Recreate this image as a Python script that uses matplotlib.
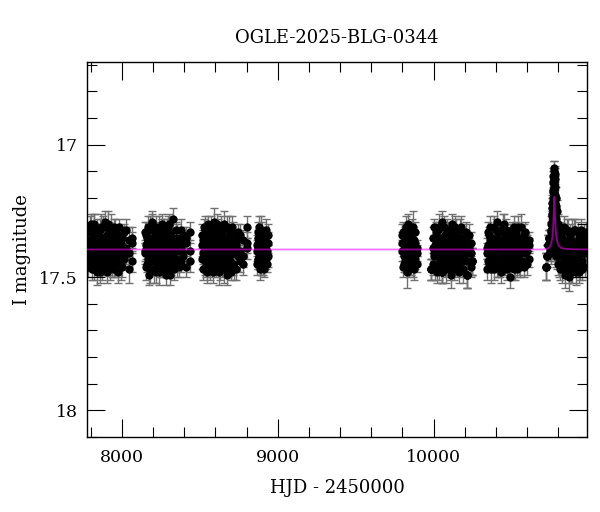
import matplotlib
matplotlib.use('Agg')
import matplotlib.pyplot as plt
from matplotlib.ticker import MultipleLocator

# Each season: epochs, three sets of magnitudes per epoch, error bars

# season 1
t1 = [7785, 7791, 7796, 7802, 7808, 7813, 7819, 7825, 7830, 7836, 7842, 7847, 7853, 7859,
      7864, 7870, 7876, 7881, 7887, 7893, 7898, 7904, 7910, 7915, 7921, 7927, 7932, 7938,
      7944, 7950, 7957, 7965, 7974, 7983, 7993, 8004, 8016, 8030, 8046, 8063]
m1 = [17.37, 17.44, 17.32, 17.41, 17.47, 17.35, 17.40, 17.30, 17.45, 17.38, 17.33, 17.43, 17.36, 17.48,
      17.31, 17.42, 17.36, 17.45, 17.39, 17.29, 17.46, 17.34, 17.42, 17.38, 17.32, 17.47, 17.40, 17.35,
      17.43, 17.31, 17.45, 17.39, 17.34, 17.42, 17.37, 17.46, 17.33, 17.41, 17.36, 17.44]
m1b = [17.46, 17.33, 17.40, 17.30, 17.36, 17.44, 17.31, 17.47, 17.35, 17.42, 17.48, 17.34, 17.45, 17.32,
       17.40, 17.35, 17.47, 17.31, 17.44, 17.41, 17.36, 17.48, 17.30, 17.45, 17.43, 17.34, 17.31, 17.46,
       17.38, 17.47, 17.33, 17.36, 17.48, 17.31, 17.45, 17.39, 17.43, 17.32, 17.47, 17.35]
m1c = [17.39, 17.36, 17.42, 17.38, 17.41, 17.35, 17.43, 17.37, 17.40, 17.34, 17.39, 17.42, 17.36, 17.40,
       17.38, 17.44, 17.35, 17.41, 17.37, 17.43, 17.39, 17.36, 17.42, 17.34, 17.40, 17.37, 17.43, 17.38,
       17.35, 17.41, 17.39, 17.44, 17.36, 17.40, 17.38, 17.35, 17.42, 17.39, 17.41, 17.37]
e1 = [0.04, 0.03, 0.05, 0.04, 0.04, 0.03, 0.05, 0.04, 0.03, 0.04, 0.05, 0.04, 0.03, 0.04,
      0.05, 0.03, 0.04, 0.04, 0.05, 0.04, 0.03, 0.04, 0.05, 0.04, 0.03, 0.04, 0.05, 0.04,
      0.04, 0.03, 0.05, 0.04, 0.04, 0.03, 0.06, 0.04, 0.03, 0.04, 0.05, 0.04]

# season 2
t2 = [8151, 8157, 8163, 8168, 8174, 8180, 8186, 8191, 8197, 8203, 8209, 8214, 8220, 8226,
      8232, 8237, 8243, 8249, 8255, 8260, 8266, 8272, 8278, 8283, 8289, 8295, 8301, 8306,
      8312, 8318, 8324, 8330, 8337, 8345, 8354, 8364, 8377, 8393, 8412, 8437]
m2 = [17.40, 17.34, 17.45, 17.31, 17.38, 17.47, 17.36, 17.42, 17.29, 17.44, 17.39, 17.33, 17.48, 17.37,
      17.41, 17.32, 17.46, 17.35, 17.43, 17.30, 17.40, 17.47, 17.34, 17.38, 17.44, 17.31, 17.42, 17.36,
      17.49, 17.33, 17.45, 17.28, 17.39, 17.43, 17.35, 17.46, 17.32, 17.41, 17.37, 17.44]
m2b = [17.33, 17.46, 17.37, 17.43, 17.49, 17.32, 17.44, 17.30, 17.41, 17.35, 17.47, 17.42, 17.31, 17.45,
       17.34, 17.48, 17.38, 17.44, 17.32, 17.46, 17.36, 17.31, 17.45, 17.49, 17.33, 17.41, 17.47, 17.30,
       17.38, 17.44, 17.36, 17.42, 17.47, 17.32, 17.45, 17.38, 17.44, 17.34, 17.46, 17.33]
m2c = [17.41, 17.38, 17.35, 17.40, 17.43, 17.37, 17.39, 17.36, 17.42, 17.38, 17.35, 17.40, 17.44, 17.37,
       17.39, 17.41, 17.36, 17.40, 17.38, 17.42, 17.35, 17.39, 17.37, 17.41, 17.36, 17.43, 17.38, 17.40,
       17.34, 17.39, 17.41, 17.37, 17.43, 17.38, 17.40, 17.36, 17.39, 17.42, 17.35, 17.40]
e2 = [0.04, 0.05, 0.03, 0.04, 0.04, 0.05, 0.03, 0.04, 0.04, 0.03, 0.05, 0.04, 0.04, 0.03,
      0.04, 0.05, 0.04, 0.03, 0.04, 0.04, 0.05, 0.03, 0.04, 0.04, 0.05, 0.04, 0.03, 0.04,
      0.04, 0.05, 0.03, 0.04, 0.04, 0.03, 0.05, 0.04, 0.04, 0.03, 0.04, 0.04]

# season 3
t3 = [8517, 8523, 8529, 8535, 8541, 8547, 8553, 8558, 8564, 8570, 8576, 8582, 8588, 8593,
      8599, 8605, 8611, 8617, 8623, 8628, 8634, 8640, 8646, 8652, 8658, 8663, 8669, 8675,
      8681, 8687, 8693, 8699, 8706, 8714, 8723, 8733, 8745, 8760, 8778, 8802]
m3 = [17.43, 17.36, 17.40, 17.32, 17.46, 17.38, 17.30, 17.44, 17.35, 17.41, 17.47, 17.33, 17.39, 17.29,
      17.45, 17.37, 17.42, 17.31, 17.48, 17.36, 17.40, 17.34, 17.46, 17.38, 17.30, 17.43, 17.35, 17.49,
      17.39, 17.32, 17.44, 17.37, 17.41, 17.33, 17.46, 17.36, 17.42, 17.34, 17.45, 17.39]
m3b = [17.34, 17.47, 17.31, 17.44, 17.37, 17.48, 17.42, 17.34, 17.46, 17.31, 17.37, 17.45, 17.48, 17.41,
       17.33, 17.46, 17.30, 17.44, 17.35, 17.47, 17.31, 17.45, 17.33, 17.42, 17.47, 17.35, 17.44, 17.31,
       17.46, 17.40, 17.34, 17.48, 17.31, 17.45, 17.38, 17.47, 17.33, 17.44, 17.36, 17.31]
m3c = [17.38, 17.41, 17.37, 17.40, 17.35, 17.42, 17.39, 17.36, 17.40, 17.43, 17.38, 17.36, 17.41, 17.37,
       17.39, 17.42, 17.35, 17.40, 17.38, 17.41, 17.36, 17.39, 17.43, 17.37, 17.40, 17.38, 17.41, 17.35,
       17.39, 17.42, 17.37, 17.40, 17.36, 17.39, 17.41, 17.38, 17.35, 17.40, 17.42, 17.37]
e3 = [0.04, 0.04, 0.03, 0.05, 0.04, 0.04, 0.03, 0.04, 0.05, 0.04, 0.03, 0.04, 0.04, 0.05,
      0.03, 0.04, 0.04, 0.03, 0.05, 0.04, 0.04, 0.03, 0.04, 0.04, 0.05, 0.04, 0.03, 0.04,
      0.04, 0.05, 0.04, 0.03, 0.04, 0.04, 0.05, 0.04, 0.03, 0.04, 0.04, 0.04]

# season 4
t4 = [8866, 8871, 8876, 8881, 8886, 8891, 8896, 8901, 8906, 8911, 8917, 8923, 8930, 8938]
m4 = [17.38, 17.44, 17.33, 17.41, 17.47, 17.36, 17.34, 17.40, 17.45, 17.39, 17.35, 17.43, 17.37, 17.42]
m4b = [17.45, 17.35, 17.43, 17.31, 17.38, 17.46, 17.42, 17.33, 17.36, 17.47, 17.41, 17.32, 17.45, 17.34]
m4c = [17.40, 17.37, 17.39, 17.42, 17.35, 17.40, 17.38, 17.41, 17.36, 17.39, 17.43, 17.38, 17.40, 17.37]
e4 = [0.04, 0.03, 0.04, 0.04, 0.04, 0.03, 0.07, 0.04, 0.04, 0.03, 0.04, 0.04, 0.03, 0.04]

# season 5
t5 = [9799, 9805, 9811, 9817, 9822, 9828, 9834, 9840, 9846, 9852, 9857, 9863, 9869, 9875, 9882, 9891]
m5 = [17.40, 17.33, 17.45, 17.37, 17.42, 17.48, 17.30, 17.35, 17.41, 17.38, 17.44, 17.32, 17.31, 17.36,
      17.43, 17.39]
m5b = [17.34, 17.46, 17.38, 17.44, 17.31, 17.36, 17.42, 17.47, 17.33, 17.45, 17.35, 17.40, 17.44, 17.47,
       17.33, 17.45]
m5c = [17.37, 17.40, 17.42, 17.35, 17.39, 17.41, 17.37, 17.40, 17.43, 17.36, 17.39, 17.42, 17.38, 17.40,
       17.37, 17.41]
e5 = [0.04, 0.04, 0.03, 0.04, 0.04, 0.06, 0.04, 0.03, 0.04, 0.04, 0.03, 0.04, 0.06, 0.04, 0.04, 0.03]

# season 6
t6 = [9985, 9997, 10003, 10010, 10016, 10022, 10029, 10035, 10041, 10052, 10054, 10060, 10067, 10073,
      10079, 10086, 10092, 10098, 10105, 10111, 10117, 10124, 10130, 10136, 10143, 10149, 10155, 10162,
      10168, 10174, 10181, 10188, 10196, 10205, 10217, 10226, 10238, 10245]
m6 = [17.47, 17.35, 17.42, 17.35, 17.33, 17.48, 17.40, 17.31, 17.44, 17.48, 17.29, 17.45, 17.41, 17.34,
      17.47, 17.39, 17.32, 17.43, 17.36, 17.49, 17.30, 17.42, 17.38, 17.45, 17.33, 17.40, 17.46, 17.35,
      17.43, 17.31, 17.39, 17.47, 17.36, 17.44, 17.49, 17.41, 17.37, 17.44]
m6b = [17.47, 17.45, 17.31, 17.47, 17.41, 17.36, 17.32, 17.46, 17.37, 17.48, 17.42, 17.35, 17.31, 17.46,
       17.38, 17.32, 17.45, 17.35, 17.47, 17.40, 17.44, 17.33, 17.47, 17.31, 17.42, 17.46, 17.34, 17.48,
       17.32, 17.44, 17.47, 17.35, 17.42, 17.33, 17.49, 17.34, 17.46, 17.44]
m6c = [17.47, 17.39, 17.41, 17.38, 17.40, 17.42, 17.37, 17.39, 17.35, 17.48, 17.40, 17.38, 17.43, 17.36,
       17.41, 17.39, 17.37, 17.40, 17.42, 17.35, 17.39, 17.41, 17.37, 17.40, 17.38, 17.43, 17.36, 17.40,
       17.39, 17.37, 17.41, 17.38, 17.40, 17.36, 17.49, 17.39, 17.41, 17.44]
e6 = [0.04, 0.04, 0.03, 0.04, 0.04, 0.04, 0.03, 0.05, 0.04, 0.04, 0.04, 0.03, 0.04, 0.04,
      0.05, 0.04, 0.03, 0.04, 0.04, 0.05, 0.04, 0.03, 0.04, 0.04, 0.05, 0.04, 0.03, 0.04,
      0.04, 0.04, 0.03, 0.05, 0.04, 0.04, 0.05, 0.04, 0.04, 0.05]

# season 7
t7 = [10344, 10351, 10358, 10365, 10371, 10378, 10385, 10392, 10398, 10405, 10412, 10419, 10425, 10432,
      10439, 10446, 10452, 10459, 10466, 10473, 10479, 10486, 10493, 10500, 10506, 10513, 10520, 10527,
      10533, 10540, 10547, 10554, 10561, 10569, 10578, 10588, 10600, 10615]
m7 = [17.39, 17.44, 17.34, 17.41, 17.47, 17.36, 17.31, 17.43, 17.38, 17.29, 17.45, 17.40, 17.33, 17.48,
      17.36, 17.42, 17.30, 17.46, 17.39, 17.34, 17.44, 17.37, 17.50, 17.32, 17.41, 17.47, 17.35, 17.43,
      17.38, 17.31, 17.45, 17.40, 17.36, 17.44, 17.34, 17.41, 17.38, 17.43]
m7b = [17.47, 17.33, 17.45, 17.31, 17.38, 17.44, 17.47, 17.35, 17.32, 17.46, 17.36, 17.33, 17.47, 17.39,
       17.45, 17.31, 17.44, 17.35, 17.32, 17.47, 17.38, 17.45, 17.34, 17.44, 17.36, 17.31, 17.46, 17.33,
       17.47, 17.42, 17.35, 17.46, 17.31, 17.38, 17.46, 17.33, 17.45, 17.36]
m7c = [17.41, 17.38, 17.40, 17.36, 17.42, 17.39, 17.37, 17.40, 17.43, 17.38, 17.40, 17.36, 17.39, 17.42,
       17.37, 17.40, 17.38, 17.41, 17.35, 17.39, 17.42, 17.37, 17.40, 17.38, 17.41, 17.36, 17.39, 17.43,
       17.37, 17.40, 17.38, 17.41, 17.36, 17.40, 17.39, 17.37, 17.40, 17.38]
e7 = [0.04, 0.04, 0.03, 0.04, 0.05, 0.04, 0.04, 0.03, 0.04, 0.04, 0.05, 0.04, 0.03, 0.04,
      0.04, 0.05, 0.04, 0.03, 0.04, 0.04, 0.04, 0.05, 0.04, 0.03, 0.04, 0.04, 0.05, 0.04,
      0.03, 0.04, 0.04, 0.04, 0.05, 0.03, 0.04, 0.04, 0.04, 0.03]

# season 8 (with the event)
t8 = [10718, 10725, 10733, 10740, 10746, 10750, 10754, 10757, 10760, 10762, 10764, 10766, 10768, 10770,
      10771, 10772, 10773, 10774, 10776, 10778, 10780, 10782, 10784, 10786, 10788, 10791, 10794, 10797,
      10801, 10805, 10810, 10816, 10823, 10829, 10836, 10842, 10849, 10855, 10862, 10868, 10875, 10881,
      10888, 10894, 10901, 10907, 10914, 10920, 10927, 10933, 10940, 10947, 10954, 10962, 10970, 10978]
m8 = [17.46, 17.42, 17.38, 17.35, 17.40, 17.33, 17.30, 17.26, 17.22, 17.34, 17.17, 17.28, 17.12, 17.21,
      17.36, 17.09, 17.40, 17.15, 17.25, 17.11, 17.19, 17.30, 17.23, 17.38, 17.28, 17.33, 17.42, 17.30,
      17.37, 17.45, 17.34, 17.40, 17.47, 17.36, 17.43, 17.49, 17.38, 17.45, 17.33, 17.50, 17.41, 17.36,
      17.47, 17.39, 17.44, 17.32, 17.48, 17.37, 17.42, 17.35, 17.46, 17.39, 17.44, 17.36, 17.41, 17.38]
m8b = [17.46, 17.42, 17.38, 17.35, 17.36, 17.41, 17.36, 17.33, 17.40, 17.29, 17.38, 17.14, 17.33, 17.10,
       17.27, 17.18, 17.31, 17.24, 17.13, 17.35, 17.24, 17.16, 17.35, 17.20, 17.42, 17.25, 17.35, 17.45,
       17.31, 17.38, 17.47, 17.33, 17.35, 17.46, 17.31, 17.38, 17.45, 17.32, 17.41, 17.47, 17.34, 17.48,
       17.33, 17.45, 17.32, 17.46, 17.38, 17.45, 17.33, 17.48, 17.37, 17.32, 17.47, 17.34, 17.46, 17.33]
m8c = [17.46, 17.42, 17.38, 17.35, 17.38, 17.37, 17.32, 17.30, 17.27, 17.24, 17.22, 17.20, 17.18, 17.16,
       17.14, 17.12, 17.13, 17.17, 17.20, 17.22, 17.26, 17.27, 17.29, 17.31, 17.33, 17.36, 17.39, 17.40,
       17.40, 17.41, 17.38, 17.40, 17.42, 17.39, 17.41, 17.37, 17.40, 17.43, 17.38, 17.40, 17.36, 17.41,
       17.39, 17.42, 17.38, 17.40, 17.37, 17.41, 17.39, 17.43, 17.38, 17.40, 17.36, 17.41, 17.39, 17.40]
e8 = [0.05, 0.04, 0.04, 0.03, 0.04, 0.04, 0.03, 0.04, 0.03, 0.04, 0.03, 0.04, 0.03, 0.04,
      0.04, 0.03, 0.04, 0.03, 0.04, 0.03, 0.04, 0.04, 0.03, 0.04, 0.04, 0.04, 0.05, 0.04,
      0.04, 0.05, 0.04, 0.04, 0.05, 0.04, 0.04, 0.05, 0.04, 0.04, 0.05, 0.05, 0.04, 0.04,
      0.05, 0.04, 0.04, 0.04, 0.05, 0.04, 0.04, 0.04, 0.05, 0.04, 0.04, 0.04, 0.04, 0.04]

# model curve
model_t = [7780, 10700, 10730, 10745, 10755, 10762, 10767, 10771, 10774, 10777, 10781, 10786,
           10793, 10802, 10815, 10835, 10870, 10990]
model_m = [17.395, 17.395, 17.392, 17.386, 17.372, 17.348, 17.31, 17.25, 17.197, 17.245, 17.30, 17.34,
           17.365, 17.38, 17.388, 17.392, 17.394, 17.395]

seasons = [(t1, [m1, m1b, m1c], e1), (t2, [m2, m2b, m2c], e2), (t3, [m3, m3b, m3c], e3),
           (t4, [m4, m4b, m4c], e4), (t5, [m5, m5b, m5c], e5), (t6, [m6, m6b, m6c], e6),
           (t7, [m7, m7b, m7c], e7), (t8, [m8, m8b, m8c], e8)]

plt.rcParams['font.family'] = ['DejaVu Serif']

fig = plt.figure(figsize=(6, 5.12), dpi=100)
ax = fig.add_axes([0.1458, 0.1471, 0.832, 0.7313])

# error bars first, points on top
for t, mags, e in seasons:
    for m in mags:
        ax.errorbar(t, m, yerr=e, fmt='none', ecolor='#707070',
                    elinewidth=1.0, capsize=3, capthick=1.0, zorder=1)
for t, mags, e in seasons:
    for m in mags:
        ax.plot(t, m, 'o', color='black', ms=6, mew=0, zorder=2)

ax.plot(model_t, model_m, color='#ff00ff', lw=1.3, alpha=0.55, zorder=3)

ax.set_xlim(7780, 10982)
ax.set_ylim(18.1, 16.69)

ax.xaxis.set_major_locator(MultipleLocator(1000))
ax.xaxis.set_minor_locator(MultipleLocator(200))
ax.yaxis.set_major_locator(MultipleLocator(0.5))
ax.yaxis.set_minor_locator(MultipleLocator(0.1))
ax.yaxis.set_major_formatter(plt.FuncFormatter(lambda v, p: f'{v:g}'))

ax.tick_params(which='both', direction='in', top=True, right=True, width=0.8)
ax.tick_params(which='major', length=13)
ax.tick_params(which='minor', length=7)
ax.tick_params(axis='x', labelsize=12.5, pad=9)
ax.tick_params(axis='y', labelsize=12.5, pad=7)
for s in ax.spines.values():
    s.set_linewidth(1.0)

ax.set_title('OGLE-2025-BLG-0344', fontsize=13, pad=14)
ax.set_xlabel('HJD - 2450000', fontsize=13, labelpad=9)
ax.set_ylabel('I magnitude', fontsize=13, labelpad=6)

fig.savefig('out.png', dpi=100)
